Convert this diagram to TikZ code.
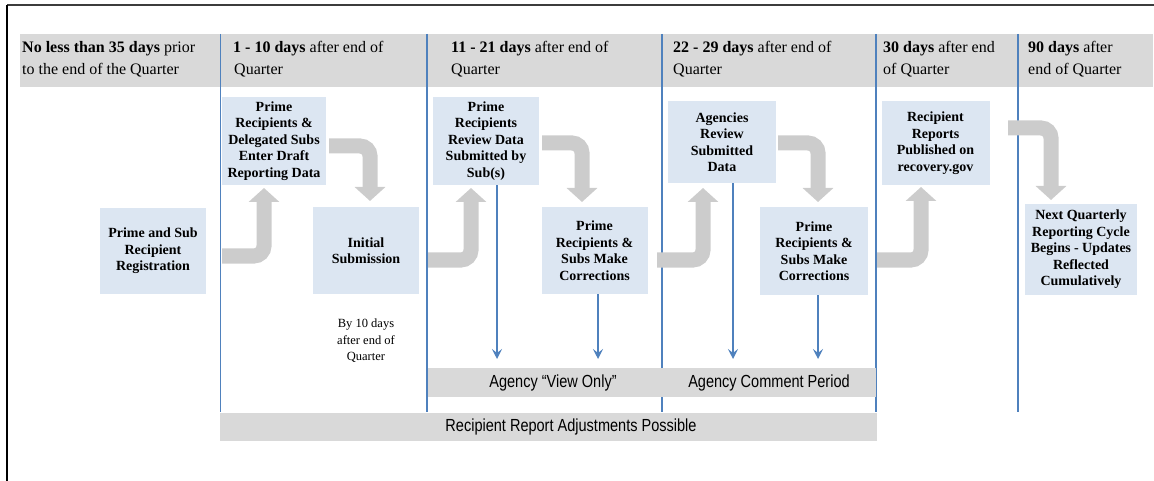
\documentclass[tikz,border=0pt]{standalone}
\usepackage{fontspec}
\setmainfont{Liberation Serif}
\newfontfamily\narrowsans[FakeStretch=0.83]{Liberation Sans}
\usetikzlibrary{arrows.meta,calc}
\definecolor{hdrgray}{RGB}{217,217,217}
\definecolor{boxblue}{RGB}{220,230,242}
\definecolor{linblue}{RGB}{79,129,189}
\definecolor{arrgray}{RGB}{204,204,204}
\definecolor{framegray}{RGB}{60,60,60}
\begin{document}
\begin{tikzpicture}[x=1pt,y=-1pt,
  stepbox/.style={fill=boxblue, inner sep=0pt, align=center, font=\fontsize{14}{16.5}\selectfont\bfseries},
  hdr/.style={anchor=base west, inner sep=0pt, font=\fontsize{16}{20}\selectfont},
  band/.style={fill=hdrgray, inner sep=0pt},
  bandtext/.style={inner sep=0pt, font=\narrowsans\fontsize{17.5}{20}\selectfont},
  colline/.style={draw=linblue, line width=1.8pt},
  bigarrow/.style={draw=arrgray, line width=15pt, rounded corners=10pt, -{Triangle[width=30pt,length=14pt]}},
  thinarrow/.style={draw=linblue, line width=1.5pt, -{Stealth[length=10pt,width=10pt,inset=4pt]}},
  note/.style={inner sep=0pt, align=center, font=\fontsize{12.5}{16.5}\selectfont}
]
\useasboundingbox (0,0) rectangle (1154,481);
% frame
\draw[framegray, line width=2pt] (7,5) -- (1154,5);
\draw[black, line width=2pt] (7,5) -- (7,481);
% header band
\node[band, minimum width=1133pt, minimum height=53pt, anchor=north west] (hdrband) at (20,34) {};
% column lines
\foreach \cx/\nm in {220.5/c1, 427/c2, 662/c3, 876/c4, 1018/c5}
  \draw[colline] (\cx,34) coordinate (\nm top) -- (\cx,412) coordinate (\nm bot);
% header texts
\node[hdr] (h1a) at (22,53) {\textbf{No less than 35 days} prior};
\node[hdr] (h1b) at (22,75) {to the end of the Quarter};
\node[hdr] (h2a) at (233,53) {\textbf{1 - 10 days} after end of};
\node[hdr] (h2b) at (234,75) {Quarter};
\node[hdr] (h3a) at (451,53) {\textbf{11 - 21 days} after end of};
\node[hdr] (h3b) at (451,75) {Quarter};
\node[hdr] (h4a) at (673,53) {\textbf{22 - 29 days} after end of};
\node[hdr] (h4b) at (673,75) {Quarter};
\node[hdr] (h5a) at (883,53) {\textbf{30 days} after end};
\node[hdr] (h5b) at (883,75) {of Quarter};
\node[hdr] (h6a) at (1028,53) {\textbf{90 days} after};
\node[hdr] (h6b) at (1028,75) {end of Quarter};
% boxes
\node[stepbox, minimum width=106pt, minimum height=86pt] (reg) at (153,251) {Prime and Sub\\Recipient\\Registration};
\node[stepbox, minimum width=104pt, minimum height=88pt] (enter) at (274,141) {Prime\\Recipients \&\\Delegated Subs\\Enter Draft\\Reporting Data};
\node[stepbox, minimum width=106pt, minimum height=86pt] (init) at (366,250.5) {Initial\\Submission};
\node[stepbox, minimum width=106pt, minimum height=88pt] (review) at (486,141) {Prime\\Recipients\\Review Data\\Submitted by\\Sub(s)};
\node[stepbox, minimum width=106pt, minimum height=87pt] (corr1) at (594.5,250.5) {Prime\\Recipients \&\\Subs Make\\Corrections};
\node[stepbox, minimum width=108pt, minimum height=82pt] (agency) at (722,142) {Agencies\\Review\\Submitted\\Data};
\node[stepbox, minimum width=108pt, minimum height=88pt] (corr2) at (814,251) {Prime\\Recipients \&\\Subs Make\\Corrections};
\node[stepbox, minimum width=108pt, minimum height=84pt] (pub) at (935.5,143) {Recipient\\Reports\\Published on\\recovery.gov};
\node[stepbox, minimum width=112pt, minimum height=91pt] (next) at (1081,249.5) {Next Quarterly\\Reporting Cycle\\Begins - Updates\\Reflected\\Cumulatively};
% note
\node[note] (by10) at (366,341) {By 10 days\\after end of\\Quarter};
% gray bent arrows
\coordinate (a1s) at (222,256);  \coordinate (a1t) at (264,188);
\coordinate (a2s) at (428,260);  \coordinate (a2t) at (471,188);
\coordinate (a3s) at (657,260);  \coordinate (a3t) at (703,188);
\coordinate (a4s) at (877,260);  \coordinate (a4t) at (921,187);
\coordinate (d1s) at (329,146);  \coordinate (d1t) at (370,201);
\coordinate (d2s) at (542,143);  \coordinate (d2t) at (582,202);
\coordinate (d3s) at (778,143);  \coordinate (d3t) at (818,202);
\coordinate (d4s) at (1008,128); \coordinate (d4t) at (1051,200);
\foreach \p in {a1,a2,a3,a4,d1,d2,d3,d4}
  \draw[bigarrow] (\p s) -| (\p t);
% lower bands
\node[band, minimum width=234pt, minimum height=29pt] (viewonly) at (545,382.5) {};
\node[bandtext] (viewonlyt) at (553,382.5) {Agency “View Only”};
\node[band, minimum width=214pt, minimum height=29pt] (comment) at (769,382.5) {};
\node[bandtext] (commentt) at (769,382.5) {Agency Comment Period};
\node[band, minimum width=657pt, minimum height=28pt] (adjust) at (548.5,427) {};
\node[bandtext] (adjustt) at (571,427) {Recipient Report Adjustments Possible};
% thin blue arrows
\coordinate (v1) at (497,359);
\coordinate (v2) at (598,359);
\coordinate (v3) at (733,359);
\coordinate (v4) at (818,359);
\draw[thinarrow] (review.south -| v1) -- (v1);
\draw[thinarrow] (corr1.south -| v2) -- (v2);
\draw[thinarrow] (agency.south -| v3) -- (v3);
\draw[thinarrow] (corr2.south -| v4) -- (v4);
\end{tikzpicture}
\end{document}
